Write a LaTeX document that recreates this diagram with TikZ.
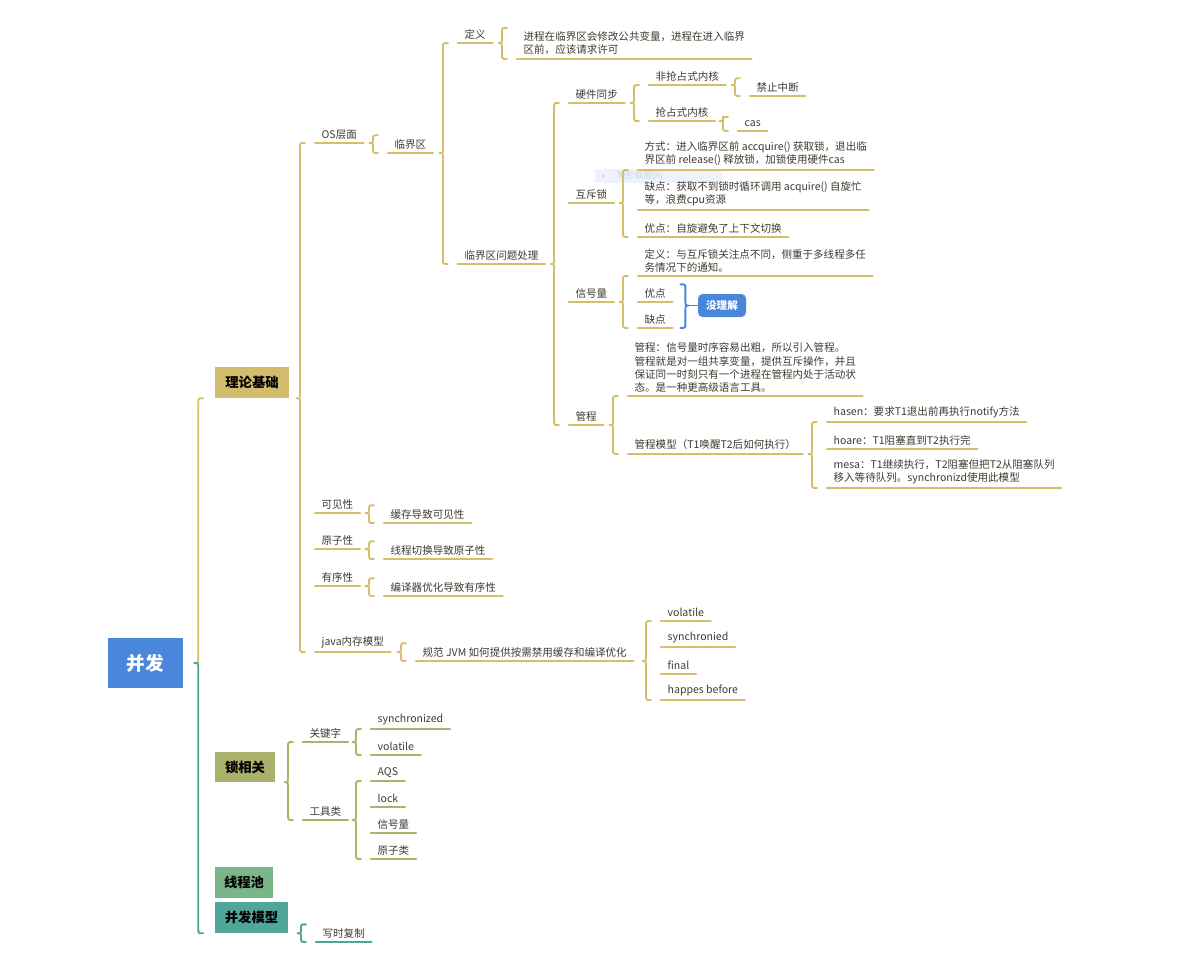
\documentclass[tikz,border=0pt]{standalone}
\usepackage{fontspec}
\setmainfont{Noto Sans CJK SC}
\usetikzlibrary{calc}
\definecolor{gold}{HTML}{D5BD6A}
\definecolor{lockc}{HTML}{ABB26A}
\definecolor{tealc}{HTML}{4EA397}
\definecolor{bluec}{HTML}{4A86D9}
\definecolor{txt}{HTML}{3F3A30}
\definecolor{boxgold}{HTML}{D3BC6B}
\definecolor{boxlock}{HTML}{A9B16A}
\definecolor{boxpool}{HTML}{7BB58A}
\definecolor{boxmodel}{HTML}{4FA699}
\definecolor{tipfill}{HTML}{EEF3FB}
\definecolor{tiptxt}{HTML}{CCD6E8}
\tikzset{
  leaf/.style={anchor=south west, font=\fontsize{7.9}{9.8}\selectfont, text=txt, inner xsep=4.8pt, inner ysep=2.8pt, align=left},
  ulst/.style={line width=1.9pt, line cap=round},
  brst/.style={line width=1.4pt, line cap=round},
  bx/.style={fill=#1, inner sep=0pt, font=\bfseries\fontsize{10}{12}\selectfont, text=black},
}
\newcommand\lf[4][gold]{\node[leaf] (#2) at (#3) {#4}; \draw[ulst,#1] (#2.south west) -- (#2.south east);}
\newcommand\brc[4][gold]{%
  \draw[brst,#1] let \p1=(#2), \p2=(#3), \p3=(#4), \p4=($(#3)+(-15,0)$) in
   (\x4+3.75pt,\y2) .. controls (\x4,\y2) .. (\x4,\y2-3.75pt) -- (\x4,\y1+3.75pt)
   .. controls (\x4,\y1) .. (\x4-3pt,\y1) .. controls (\x4,\y1) .. (\x4,\y1-3.75pt)
   -- (\x4,\y3+3.75pt) .. controls (\x4,\y3) .. (\x4+3.75pt,\y3);}
\begin{document}
\begin{tikzpicture}[x=0.75pt,y=-0.75pt]
\useasboundingbox (0,0) rectangle (1181,971);
% faint tooltip artifact
\fill[tipfill] (595,169) rectangle (722,183);
\fill[tiptxt] (603,176) circle (1.2pt);
\node[font=\fontsize{6.5}{7}\selectfont, text=tiptxt, anchor=west, inner sep=0pt] (tip) at (617,176) {矩形截图(R)};

% boxes
\node[bx=bluec, minimum width=56.25pt, minimum height=37.5pt, text=white, font=\bfseries\fontsize{14}{16}\selectfont] (root) at (145.5,663) {并发};
\node[bx=boxgold, minimum width=55.5pt, minimum height=23.25pt] (llj) at (252,382.5) {理论基础};
\node[bx=boxlock, minimum width=45pt, minimum height=22.5pt] (sxg) at (245,767) {锁相关};
\node[bx=boxpool, minimum width=43.5pt, minimum height=23.25pt] (xcc) at (244,882.5) {线程池};
\node[bx=boxmodel, minimum width=54.75pt, minimum height=23.25pt] (bfmx) at (251.5,917.5) {并发模型};

% theory branch
\lf{os}{315,143}{OS层面}
\lf{ljq}{388,153}{临界区}
\lf{dy}{458,43}{定义}
\lf{dyd}{517,59}{进程在临界区会修改公共变量，进程在进入临界\\区前，应该请求许可}
\lf{wt}{458,264}{临界区问题处理}
\lf{yj}{569,103}{硬件同步}
\lf{fqz}{649,85}{非抢占式内核}
\lf{jz}{750,96}{禁止中断}
\lf{qz}{649,121}{抢占式内核}
\lf{cas}{738,131}{cas}
\lf{hc}{569,203}{互斥锁}
\lf{fs}{638,170}{方式：进入临界区前 accquire() 获取锁，退出临\\界区前 release() 释放锁，加锁使用硬件cas}
\lf{qd}{638,210}{缺点：获取不到锁时循环调用 acquire() 自旋忙\\等，浪费cpu资源}
\lf{yd}{638,237}{优点：自旋避免了上下文切换}
\lf{xh}{569,302}{信号量}
\lf{dyb}{638,276}{定义：与互斥锁关注点不同，侧重于多线程多任\\务情况下的通知。}
\lf{ydb}{638,302}{优点}
\lf{qdb}{638,328}{缺点}
\lf{gc}{569,425}{管程}
\lf{gcd}{628,396}{管程：信号量时序容易出粗，所以引入管程。\\管程就是对一组共享变量，提供互斥操作，并且\\保证同一时刻只有一个进程在管程内处于活动状\\态。是一种更高级语言工具。}
\lf{gcm}{628,454}{管程模型（T1唤醒T2后如何执行）}
\lf{hasen}{827,422}{hasen：要求T1退出前再执行notify方法}
\lf{hoare}{827,449}{hoare：T1阻塞直到T2执行完}
\lf{mesa}{827,488}{mesa：T1继续执行，T2阻塞但把T2从阻塞队列\\移入等待队列。synchronizd使用此模型}
\lf{kj}{315,513}{可见性}
\lf{kjc}{384,523}{缓存导致可见性}
\lf{yz}{315,549}{原子性}
\lf{yzc}{384,559}{线程切换导致原子性}
\lf{yx}{315,586}{有序性}
\lf{yxc}{384,596}{编译器优化导致有序性}
\lf{jm}{315,652}{java内存模型}
\lf{gf}{416,661}{规范 JVM 如何提供按需禁用缓存和编译优化}
\lf{v1}{661,621}{volatile}
\lf{s1}{661,647}{synchronied}
\lf{f1}{661,674}{final}
\lf{h1}{661,700}{happes before}
% lock branch
\lf[lockc]{gjz}{303,742}{关键字}
\lf[lockc]{sy}{371,729}{synchronized}
\lf[lockc]{vo}{371,755}{volatile}
\lf[lockc]{gjl}{303,820}{工具类}
\lf[lockc]{aqs}{371,781}{AQS}
\lf[lockc]{lk}{371,807}{lock}
\lf[lockc]{xhl}{371,833}{信号量}
\lf[lockc]{yzl}{371,859}{原子类}
% model branch
\lf[tealc]{xs}{316,942}{写时复制}

\node[bx=bluec, rounded corners=3.5pt, minimum width=36pt, minimum height=17.25pt, text=white, font=\bfseries\fontsize{7.9}{9}\selectfont] (mlj) at (722,305.5) {没理解};

% root brace
\draw[brst,gold] let \p1=(root.east), \p2=(llj.south west), \p4=($(root.east)+(15,0)$) in
  (\x4+3.75pt,\y2) .. controls (\x4,\y2) .. (\x4,\y2-3.75pt) -- (\x4,\y1+3.75pt) .. controls (\x4,\y1) .. (\x4-3pt,\y1);
\draw[brst,tealc] let \p1=(root.east), \p3=(bfmx.south west), \p4=($(root.east)+(15,0)$) in
  (\x4-3pt,\y1) .. controls (\x4,\y1) .. (\x4,\y1-3.75pt) -- (\x4,\y3+3.75pt) .. controls (\x4,\y3) .. (\x4+3.75pt,\y3);

\brc{llj.south east}{os.south west}{jm.south west}
\brc{os.south east}{ljq.north west}{ljq.south west}
\brc{ljq.south east}{dy.south west}{wt.south west}
\brc{dy.south east}{dyd.north west}{dyd.south west}
\brc{wt.south east}{yj.south west}{gc.south west}
\brc{yj.south east}{fqz.south west}{qz.south west}
\brc{fqz.south east}{jz.north west}{jz.south west}
\brc{qz.south east}{cas.north west}{cas.south west}
\brc{hc.south east}{fs.south west}{yd.south west}
\brc{xh.south east}{dyb.south west}{qdb.south west}
\brc{gc.south east}{gcd.south west}{gcm.south west}
\brc{gcm.south east}{hasen.south west}{mesa.south west}
\brc{kj.south east}{kjc.north west}{kjc.south west}
\brc{yz.south east}{yzc.north west}{yzc.south west}
\brc{yx.south east}{yxc.north west}{yxc.south west}
\brc{jm.south east}{gf.north west}{gf.south west}
\brc{gf.south east}{v1.south west}{h1.south west}
\brc[lockc]{sxg.south east}{gjz.south west}{gjl.south west}
\brc[lockc]{gjz.south east}{sy.south west}{vo.south west}
\brc[lockc]{gjl.south east}{aqs.south west}{yzl.south west}
\brc[tealc]{bfmx.south east}{xs.north west}{xs.south west}

% blue brace to mlj
\draw[brst,bluec] let \p1=(ydb.north east), \p2=(qdb.south east), \p3=(mlj.west), \p4=($(ydb.south east)+(13,0)$) in
  (\x4-3.75pt,\y1) .. controls (\x4,\y1) .. (\x4,\y1-3.75pt) -- (\x4,\y3+3.75pt)
  .. controls (\x4,\y3) .. (\x4+3pt,\y3) .. controls (\x4,\y3) .. (\x4,\y3-3.75pt)
  -- (\x4,\y2+3.75pt) .. controls (\x4,\y2) .. (\x4-3.75pt,\y2);
\draw[brst,bluec] let \p3=(mlj.west), \p4=($(ydb.south east)+(13,0)$) in (\x4+3pt,\y3) -- (mlj.west);
\end{tikzpicture}
\end{document}
